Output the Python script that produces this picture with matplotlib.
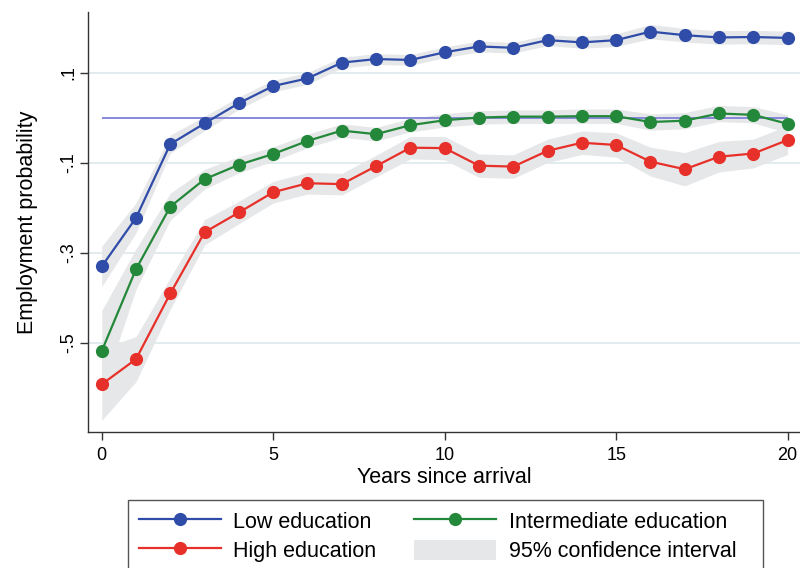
import matplotlib
matplotlib.use("Agg")
import matplotlib.pyplot as plt
from matplotlib.patches import Patch, Rectangle
from matplotlib.lines import Line2D
import numpy as np

plt.rcParams['font.family'] = ['Liberation Sans', 'DejaVu Sans']

years = list(range(0, 21))

low_edu = [-0.330, -0.222, -0.058, -0.012, 0.033, 0.071, 0.088, 0.123, 0.131, 0.129,
           0.146, 0.159, 0.156, 0.173, 0.168, 0.173, 0.192, 0.184, 0.179, 0.180, 0.178]
mid_edu = [-0.518, -0.336, -0.197, -0.136, -0.104, -0.080, -0.051, -0.028, -0.036, -0.016,
           -0.005, 0.001, 0.003, 0.003, 0.004, 0.004, -0.009, -0.006, 0.010, 0.007, -0.013]
high_edu = [-0.592, -0.536, -0.390, -0.254, -0.210, -0.165, -0.145, -0.147, -0.107, -0.066,
            -0.067, -0.106, -0.108, -0.073, -0.055, -0.060, -0.097, -0.114, -0.086, -0.079, -0.049]

# half-widths of the 95% confidence intervals
low_ci = [0.045, 0.033, 0.020, 0.016, 0.014, 0.013, 0.013, 0.012, 0.012, 0.012, 0.012,
          0.012, 0.012, 0.012, 0.013, 0.014, 0.016, 0.015, 0.015, 0.015, 0.015]
mid_ci = [0.090, 0.045, 0.030, 0.022, 0.018, 0.016, 0.015, 0.015, 0.015, 0.015, 0.015,
          0.015, 0.015, 0.015, 0.016, 0.016, 0.018, 0.018, 0.018, 0.018, 0.020]
high_ci = [0.080, 0.050, 0.035, 0.028, 0.025, 0.024, 0.024, 0.024, 0.024, 0.025, 0.026,
           0.026, 0.026, 0.026, 0.026, 0.027, 0.032, 0.037, 0.034, 0.032, 0.032]

y_ticks = [0.1, -0.1, -0.3, -0.5]
y_tick_labels = ['.1', '-.1', '-.3', '-.5']
x_ticks = [0, 5, 10, 15, 20]

BLUE = '#2f4ca8'
GREEN = '#24883a'
RED = '#e8302a'
BAND = '#e6e7e8'
GRID = '#dde9ec'

W, H = 800, 568
fig = plt.figure(figsize=(W / 100, H / 100), dpi=100)
ax = fig.add_axes([0.11, 0.2394, 0.89, 0.7395])

x = np.array(years)
series = [
    (low_edu, low_ci, BLUE),
    (mid_edu, mid_ci, GREEN),
    (high_edu, high_ci, RED),
]
for vals, ci, col in series:
    v = np.array(vals)
    c = np.array(ci)
    ax.fill_between(x, v - c, v + c, color=BAND, lw=0, zorder=1)

for yt in y_ticks:
    ax.axhline(yt, color=GRID, lw=1.2, zorder=0)

ax.hlines(0, 0, 20, color='#7f7fd8', lw=1.3, zorder=2)

for vals, ci, col in series:
    ax.plot(x, vals, color=col, lw=1.6, marker='o', markersize=9.5,
            markeredgewidth=0, zorder=3)

ax.set_xlim(-0.40, 20.36)
ax.set_ylim(-0.698, 0.2356)
ax.set_yticks(y_ticks)
ax.set_yticklabels(y_tick_labels, rotation=90, va='center', fontsize=13)
ax.set_xticks(x_ticks)
ax.set_xticklabels([str(t) for t in x_ticks], fontsize=13)
ax.tick_params(axis='both', direction='out', length=6, width=1, color='#333333')
ax.tick_params(axis='x', pad=5)
ax.tick_params(axis='y', pad=2)

for side in ('top', 'right'):
    ax.spines[side].set_visible(False)
for side in ('left', 'bottom'):
    ax.spines[side].set_color('#333333')
    ax.spines[side].set_linewidth(1)

ax.set_xlabel('Years since arrival', fontsize=15.5, labelpad=2)
ax.set_ylabel('Employment probability', fontsize=15.5, labelpad=16)

handles = [
    Line2D([], [], color=BLUE, lw=1.6, marker='o', markersize=9.5, markeredgewidth=0),
    Line2D([], [], color=RED, lw=1.6, marker='o', markersize=9.5, markeredgewidth=0),
    Line2D([], [], color=GREEN, lw=1.6, marker='o', markersize=9.5, markeredgewidth=0),
    Patch(facecolor=BAND, edgecolor='none'),
]
labels = ['Low education', 'High education', 'Intermediate education', '95% confidence interval']

box_left, box_right, box_top = 128, 763, 500
leg = fig.legend(handles, labels, ncol=2, loc='upper left',
                 bbox_to_anchor=(box_left / W, 1 - box_top / H), fontsize=15.5,
                 frameon=False, handlelength=3.8, handleheight=1.07,
                 handletextpad=0.6, columnspacing=1.75, borderpad=0.5,
                 labelspacing=0.3, borderaxespad=0)

# legend frame, running past the lower edge of the figure
fig.add_artist(Rectangle((box_left / W, -0.1), (box_right - box_left) / W,
                         1 - box_top / H + 0.1, transform=fig.transFigure,
                         fill=False, edgecolor='#555555', lw=1.0))

fig.savefig('out.png', dpi=100)
